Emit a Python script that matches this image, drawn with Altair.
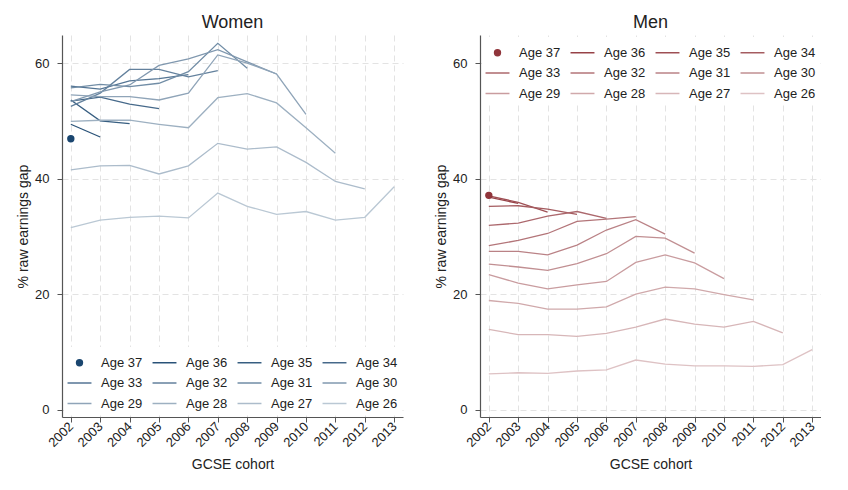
import altair as alt
import pandas as pd

# ---------------- data ----------------
cohorts = [2002, 2003, 2004, 2005, 2006, 2007, 2008, 2009, 2010, 2011, 2012, 2013]
ages = [37, 36, 35, 34, 33, 32, 31, 30, 29, 28, 27, 26]

# Women: % raw earnings gap, each age starts at the 2002 cohort
w37 = [46.9]
w36 = [49.4, 47.2]
w35 = [53.6, 50.0, 49.5]
w34 = [53.4, 54.1, 52.9, 52.1]
w33 = [56.0, 55.5, 56.9, 57.3, 58.0]
w32 = [52.5, 54.8, 58.9, 58.9, 57.6, 58.7]
w31 = [55.7, 56.3, 55.9, 56.5, 58.5, 63.4, 59.1]
w30 = [53.3, 55.0, 56.2, 59.6, 60.7, 62.3, 60.2, 58.1]
w29 = [54.5, 54.2, 54.2, 53.6, 54.8, 61.4, 60.0, 58.1, 51.1]
w28 = [49.9, 50.1, 50.1, 49.4, 48.8, 54.0, 54.7, 53.1, 48.8, 44.4]
w27 = [41.5, 42.2, 42.3, 40.8, 42.2, 46.1, 45.1, 45.5, 42.8, 39.5, 38.2]
w26 = [31.5, 32.8, 33.3, 33.5, 33.2, 37.5, 35.2, 33.8, 34.3, 32.8, 33.3, 38.6]

# Men
m37 = [37.1]
m36 = [36.8, 35.7]
m35 = [37.0, 35.9, 34.2]
m34 = [35.2, 35.3, 34.7, 33.8]
m33 = [31.9, 32.3, 33.5, 34.3, 33.1]
m32 = [28.4, 29.3, 30.5, 32.6, 33.0, 33.4]
m31 = [27.4, 27.4, 26.8, 28.5, 31.1, 32.9, 30.4]
m30 = [25.2, 24.7, 24.1, 25.3, 27.0, 30.0, 29.7, 27.1]
m29 = [23.4, 21.9, 20.9, 21.6, 22.2, 25.5, 26.8, 25.4, 22.7]
m28 = [18.9, 18.4, 17.4, 17.4, 17.8, 20.0, 21.2, 20.9, 19.9, 19.0]
m27 = [13.9, 13.0, 13.0, 12.7, 13.2, 14.3, 15.7, 14.8, 14.3, 15.3, 13.3]
m26 = [6.2, 6.4, 6.3, 6.7, 6.9, 8.6, 7.9, 7.6, 7.6, 7.5, 7.8, 10.4]

women_series = [w37, w36, w35, w34, w33, w32, w31, w30, w29, w28, w27, w26]
men_series = [m37, m36, m35, m34, m33, m32, m31, m30, m29, m28, m27, m26]


def build(series):
    rows = []
    for age, vals in zip(ages, series):
        for c, v in zip(cohorts, vals):
            rows.append({"age": age, "label": f"Age {age}", "cohort": c, "gap": v})
    return pd.DataFrame(rows)


labels = [f"Age {a}" for a in ages]

# ---------------- style ----------------
FONT = "Liberation Sans"
TEXT = "#222222"


def tints(rgb, lo=0.3):
    out = []
    n = len(ages)
    for i in range(n):
        k = 1.0 - (1.0 - lo) * i / (n - 1)
        c = [round(255 - k * (255 - ch)) for ch in rgb]
        out.append("#%02x%02x%02x" % tuple(c))
    return out


navy = tints((26, 70, 111))
maroon = tints((144, 53, 59))

dot_path = "M0,-0.28A0.28,0.28 0 1,1 0,0.28A0.28,0.28 0 1,1 0,-0.28Z"
stroke_path = "M-1.14,0H1.14"
shapes = [dot_path] + [stroke_path] * (len(ages) - 1)


def panel(series, title, colors, legend_orient):
    df = build(series)
    x = alt.X(
        "cohort:Q",
        scale=alt.Scale(domain=[2001.7, 2013.3], nice=False, zero=False),
        axis=alt.Axis(values=cohorts, format="d", labelAngle=-45, labelAlign="right",
                      labelBaseline="middle", title="GCSE cohort", tickSize=5,
                      labelPadding=2, titlePadding=8, labelOverlap=False),
    )
    y = alt.Y(
        "gap:Q",
        scale=alt.Scale(domain=[-1.26, 64.85], nice=False, zero=False),
        axis=alt.Axis(values=[0, 20, 40, 60], title="% raw earnings gap", tickSize=5,
                      labelPadding=8, titlePadding=4),
    )
    leg = alt.Legend(
        title=None, orient=legend_orient, direction="horizontal", columns=4,
        symbolSize=441, symbolStrokeWidth=1.5, labelOffset=10, columnPadding=6,
        rowPadding=1.5, labelFontSize=13, labelColor=TEXT, labelFont=FONT,
        offset=2, padding=4, fillColor="white", symbolOpacity=1,
    )
    cs = alt.Scale(domain=labels, range=colors)
    lines = alt.Chart(df).mark_line(strokeWidth=1.3).encode(
        x=x, y=y,
        stroke=alt.Stroke("label:N", scale=cs, legend=leg),
        detail="label:N",
    )
    pts = alt.Chart(df).transform_filter(alt.datum.age == 37).mark_point(
        filled=True, size=441, opacity=1, strokeWidth=1.5
    ).encode(
        x=x, y=y,
        stroke=alt.Stroke("label:N", scale=cs, legend=leg),
        fill=alt.Fill("label:N", scale=cs, legend=leg),
        shape=alt.Shape("label:N", scale=alt.Scale(domain=labels, range=shapes), legend=leg),
    )
    return alt.layer(lines, pts).properties(
        width=341, height=382,
        title=alt.TitleParams(title, fontSize=18, fontWeight="normal", offset=3,
                              anchor="middle", color=TEXT, font=FONT),
    )


women = panel(women_series, "Women", navy, "bottom-left")
men = panel(men_series, "Men", maroon, "top-left")

chart = alt.hconcat(women, men, spacing=31).resolve_scale(
    stroke="independent", fill="independent", shape="independent"
).resolve_legend(
    stroke="independent", fill="independent", shape="independent"
).properties(
    padding={"left": 16, "top": 14, "right": 0, "bottom": 0}
).configure(font=FONT).configure_view(stroke=None).configure_axis(
    gridColor="#e3e3e3", gridDash=[6, 4], gridWidth=1,
    domainColor="#555555", domainWidth=1.2, tickColor="#555555", tickWidth=1,
    labelColor=TEXT, titleColor=TEXT, labelFontSize=13, titleFontSize=14,
    titleFontWeight="normal", labelFont=FONT, titleFont=FONT,
)

chart.save("out.html", embed_options={"renderer": "svg", "actions": False})
